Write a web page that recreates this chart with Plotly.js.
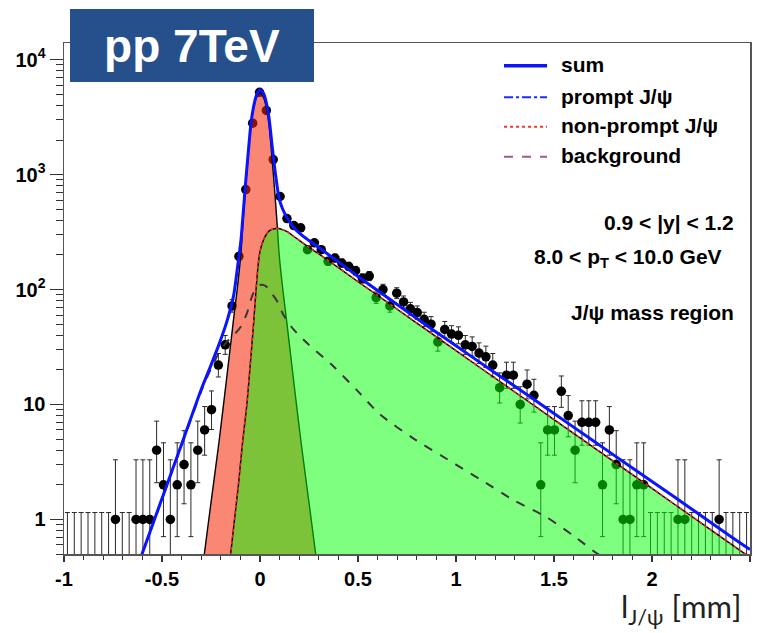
<!DOCTYPE html>
<html>
<head>
<meta charset="utf-8">
<script src="https://cdn.plot.ly/plotly-3.0.1.min.js"></script>
<style>
  html, body { margin: 0; padding: 0; background: #fff; }
  #chart { width: 759px; height: 633px; }
</style>
</head>
<body>
<div id="chart"></div>
<script>
// ---- Decay-length histogram: range of the binning and counts per bin ----
const binRange = [-1, 2.5];
const counts = [
  0, 0, 0, 0, 0, 0, 0, 1, 0, 0,
  1, 1, 1, 4, 2, 1, 2, 3, 2, 4,
  6, 9, 22, 33, 72, 194, 741, 2800, 5200, 3620,
  1350, 645, 414, 360, 344, 222, 255, 222, 176, 188,
  170, 159, 146, 125, 131, 85, 100, 72, 93, 78,
  68, 63, 55, 50, 35, 45, 41, 40, 33, 32,
  28, 26, 22, 14, 18, 18, 10, 15, 12, 2,
  6, 6, 13, 8, 4, 7, 7, 7, 2, 6,
  3, 1, 1, 2, 2, 0, 0, 0, 0, 1,
  1, 0, 0, 0, 0, 1, 0, 0, 0, 0
];

// ---- Fit model curves, sampled along l (mm) ----
const sumX = [-0.62, -0.5, -0.4, -0.3, -0.25, -0.21, -0.17, -0.135, -0.115, -0.097, -0.087, -0.075, -0.062, -0.046, -0.035, -0.02, 0,
              0.02, 0.035, 0.046, 0.062, 0.075, 0.087, 0.097, 0.115, 0.135, 0.17, 0.21, 0.25, 0.3, 0.4, 0.5, 0.6, 0.8,
              1.0, 1.2, 1.4, 1.6, 1.8, 2.0, 2.2, 2.4, 2.5];
const sumY = [0.41, 1.52, 4.5, 13.5, 22, 33, 52, 88, 155, 270, 435, 790, 1425, 2800, 3720, 4790, 5475,
              5000, 4010, 3120, 1770, 1140, 800, 625, 505, 430, 350, 300, 267, 232, 174, 130, 98, 56,
              32.4, 18.8, 11, 6.35, 3.68, 2.14, 1.24, 0.715, 0.547];

const promptX = [-0.34, -0.32, -0.284, -0.25, -0.21, -0.17, -0.135, -0.115, -0.097, -0.087, -0.075, -0.062, -0.046, -0.035, -0.02, 0,
                 0.02, 0.035, 0.046, 0.062, 0.075, 0.087, 0.097, 0.115, 0.135, 0.17, 0.21, 0.25, 0.284, 0.32, 0.34];
const promptY = [0.08, 0.16, 0.5, 1.4, 4.6, 17, 55, 105, 210, 380, 720, 1350, 2700, 3600, 4600, 5150,
                 4600, 3600, 2700, 1350, 720, 380, 210, 105, 55, 17, 4.6, 1.4, 0.5, 0.16, 0.08];

const nonPromptX = [-0.17, -0.15, -0.13, -0.11, -0.09, -0.067, -0.05, -0.035, -0.02, -0.01, 0, 0.02, 0.04, 0.06, 0.08, 0.095,
                    0.11, 0.137, 0.17, 0.2, 0.25, 0.3, 0.4, 0.5, 0.6, 0.8, 1.0, 1.2, 1.4, 1.6, 1.8, 2.0, 2.2, 2.4, 2.5];
const nonPromptY = [0.3, 0.5, 1.0, 2.0, 4.5, 10, 22, 45, 100, 160, 215, 275, 315, 333, 340, 340,
                    334, 320, 292, 268, 233, 204, 155, 117, 89, 51, 29.4, 16.9, 9.75, 5.6, 3.23, 1.86, 1.07, 0.615, 0.467];

const bkgX = [-0.62, -0.5, -0.4, -0.3, -0.25, -0.21, -0.17, -0.135, -0.1, -0.067, -0.04, -0.02, 0.006, 0.03, 0.06, 0.086,
              0.12, 0.171, 0.25, 0.374, 0.5, 0.612, 0.78, 1.0, 1.12, 1.3, 1.46, 1.6, 1.716, 1.8];
const bkgY = [0.41, 1.5, 4.4, 13, 20.5, 28, 35, 40, 47, 62, 88, 102, 110, 107, 92, 80,
              60, 45, 33, 21.5, 13, 8.2, 5.1, 3.0, 2.25, 1.45, 1.05, 0.72, 0.51, 0.42];

// ---- Text ----
const legendLabels = ['sum', 'prompt J/ψ', 'non-prompt J/ψ', 'background'];
const yTickVals = [1, 10, 100, 1000, 10000];
const yTickText = ['1', '10', '10<sup>2</sup>', '10<sup>3</sup>', '10<sup>4</sup>'];
const xTickVals = [-1, -0.5, 0, 0.5, 1, 1.5, 2, 2.5];
const xTickText = ['-1', '-0.5', '0', '0.5', '1', '1.5', '2', '2.5'];

// ---- Bin centres ----
const nBins = counts.length;
const binW = (binRange[1] - binRange[0]) / nBins;
const centers = counts.map((_, i) => binRange[0] + binW * (i + 0.5));

// ---- Poisson 68.27% central intervals (one-sided for empty bins) ----
const maxN = Math.max(...counts) + 2;
const logFact = [0];
for (let k = 1; k <= maxN; k++) logFact[k] = logFact[k - 1] + Math.log(k);
function poisCdf(n, mu) {
  if (n < 0) return 0;
  const lm = Math.log(mu);
  let s = 0;
  for (let k = 0; k <= n; k++) s += Math.exp(-mu + k * lm - logFact[k]);
  return Math.min(1, s);
}
function solve(f, target, lo, hi) {
  // f decreasing in mu
  for (let it = 0; it < 60; it++) {
    const mid = 0.5 * (lo + hi);
    if (f(mid) > target) lo = mid; else hi = mid;
  }
  return 0.5 * (lo + hi);
}
const alpha = (1 - 0.6827) / 2;
function interval(n) {
  if (n === 0) return [0, -Math.log(1 - 0.6827)];
  const span = 10 * Math.sqrt(n) + 10;
  const up = solve(mu => poisCdf(n, mu), alpha, n, n + span);
  const low = solve(mu => poisCdf(n - 1, mu), 1 - alpha, Math.max(1e-9, n - span), n);
  return [low, up];
}

const filled = { x: [], y: [], up: [], down: [] };
const empty = { x: [], y: [], down: [] };
counts.forEach((n, i) => {
  const [lo, hi] = interval(n);
  if (n > 0) {
    filled.x.push(centers[i]); filled.y.push(n);
    filled.up.push(hi - n); filled.down.push(n - lo);
  } else {
    empty.x.push(centers[i]); empty.y.push(hi);
    empty.down.push(hi * 0.999);
  }
});

const barStyle = { color: '#2a2a2a', thickness: 1, width: 2.5 };

const traces = [
  { // empty bins: upper limit only
    x: empty.x, y: empty.y, type: 'scatter', mode: 'markers',
    marker: { size: 1, color: 'rgba(0,0,0,0)' },
    error_y: Object.assign({ type: 'data', symmetric: false, array: empty.y.map(() => 0), arrayminus: empty.down }, barStyle),
    hoverinfo: 'skip', showlegend: false
  },
  { // data
    x: filled.x, y: filled.y, type: 'scatter', mode: 'markers',
    marker: { size: 9.5, color: '#000' },
    error_y: Object.assign({ type: 'data', symmetric: false, array: filled.up, arrayminus: filled.down }, barStyle),
    showlegend: false
  },
  { // prompt component
    x: promptX, y: promptY, type: 'scatter', mode: 'lines',
    line: { color: '#000', width: 1.4, shape: 'spline', smoothing: 0.7 },
    fill: 'tozeroy', fillcolor: 'rgba(246,37,0,0.55)', showlegend: false
  },
  { // non-prompt component
    x: nonPromptX, y: nonPromptY, type: 'scatter', mode: 'lines',
    line: { color: '#000', width: 1.4, shape: 'spline', smoothing: 0.7 },
    fill: 'tozeroy', fillcolor: 'rgba(0,255,0,0.5)', showlegend: false
  },
  {
    x: nonPromptX, y: nonPromptY, type: 'scatter', mode: 'lines',
    line: { color: '#ff2020', width: 1.6, dash: 'dot', shape: 'spline', smoothing: 0.7 },
    showlegend: false
  },
  { // background
    x: bkgX, y: bkgY, type: 'scatter', mode: 'lines',
    line: { color: '#3c343a', width: 2, dash: 'dash', shape: 'spline', smoothing: 0.7 },
    showlegend: false
  },
  { // total fit
    x: sumX, y: sumY, type: 'scatter', mode: 'lines',
    line: { color: '#0a14ff', width: 3, shape: 'spline', smoothing: 0.7 },
    showlegend: false
  }
];

// pixel -> paper helpers for the plot frame
const L = 64, R = 750, T = 43, B = 554;
const px = v => (v - L) / (R - L);
const py = v => (B - v) / (B - T);

const yMinor = [];
for (let d = -1; d <= 4; d++) for (let m = 2; m <= 9; m++) {
  const v = m * Math.pow(10, d);
  if (v >= 0.5 && v <= 14000) yMinor.push(v);
}

const bold = { family: 'Liberation Sans, Arial, sans-serif', size: 21, color: '#000', weight: 'bold' };

const legendRows = [
  { y: 65.7, line: { color: '#0a14ff', width: 3.5, dash: 'solid' } },
  { y: 97.3, line: { color: '#1a2cff', width: 2, dash: 'dashdot' } },
  { y: 126.7, line: { color: '#ff3030', width: 2, dash: 'dot' } },
  { y: 156.7, line: { color: '#a05a85', width: 2, dash: 'dash' } }
];

const shapes = legendRows.map(r => ({
  type: 'line', xref: 'paper', yref: 'paper',
  x0: px(504), x1: px(547), y0: py(r.y), y1: py(r.y), line: r.line
}));

const annotations = legendRows.map((r, i) => ({
  text: legendLabels[i], xref: 'paper', yref: 'paper',
  x: px(559), y: py(r.y - 1), xanchor: 'left', yanchor: 'middle',
  showarrow: false, font: bold
}));

annotations.push(
  { text: '0.9 < |y| < 1.2', xref: 'paper', yref: 'paper', x: px(736), y: py(222),
    xanchor: 'right', yanchor: 'middle', showarrow: false, font: bold },
  { text: '8.0 < p<sub>T</sub> < 10.0 GeV', xref: 'paper', yref: 'paper', x: px(724), y: py(258),
    xanchor: 'right', yanchor: 'middle', showarrow: false, font: bold },
  { text: 'J/ψ mass region', xref: 'paper', yref: 'paper', x: px(736), y: py(312),
    xanchor: 'right', yanchor: 'middle', showarrow: false, font: bold },
  { text: 'l<sub>J/ψ</sub> [mm]', xref: 'paper', yref: 'paper', x: px(744), y: py(608),
    xanchor: 'right', yanchor: 'middle', showarrow: false,
    font: { family: 'Lato, Open Sans, sans-serif', size: 31, color: '#222' } },
  { text: 'pp 7TeV', xref: 'paper', yref: 'paper', x: px(70), y: py(9),
    xanchor: 'left', yanchor: 'top', width: 244, height: 73, align: 'center', valign: 'middle',
    bgcolor: '#26508c', borderpad: 0, borderwidth: 0, showarrow: false,
    font: { family: 'Liberation Sans, Arial, sans-serif', size: 46, color: '#fff', weight: 'bold' } }
);

const tickFont = { family: 'Liberation Sans, Arial, sans-serif', size: 20, color: '#000', weight: 'bold' };

const layout = {
  width: 759, height: 633,
  margin: { l: L, r: 759 - R, t: T, b: 633 - B, pad: 0 },
  paper_bgcolor: '#fff', plot_bgcolor: '#fff',
  showlegend: false,
  xaxis: {
    range: binRange, showgrid: false, zeroline: false,
    showline: true, linecolor: '#555', linewidth: 1.5, mirror: true,
    ticks: 'outside', ticklen: 6, tickwidth: 1.2, tickcolor: '#333',
    tickmode: 'array', tickvals: xTickVals, ticktext: xTickText, tickfont: tickFont,
    minor: { dtick: 0.1, tick0: -1, ticks: 'outside', ticklen: 4, tickwidth: 1, tickcolor: '#333', showgrid: false }
  },
  yaxis: {
    type: 'log', range: [Math.log10(0.5), 4.145], showgrid: false, zeroline: false,
    showline: true, linecolor: '#555', linewidth: 1.5, mirror: true,
    ticks: 'outside', ticklen: 13, tickwidth: 1.2, tickcolor: '#333',
    tickmode: 'array', tickvals: yTickVals, ticktext: yTickText, tickfont: tickFont,
    minor: { tickmode: 'array', tickvals: yMinor, ticks: 'outside', ticklen: 7, tickwidth: 1, tickcolor: '#333', showgrid: false }
  },
  shapes: shapes,
  annotations: annotations
};

Plotly.newPlot('chart', traces, layout, { staticPlot: true, displayModeBar: false });
</script>
</body>
</html>
